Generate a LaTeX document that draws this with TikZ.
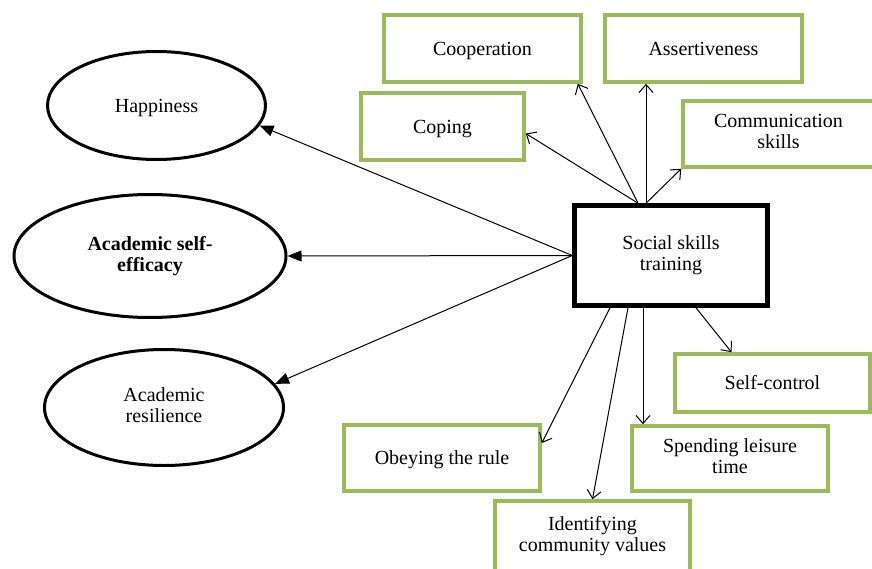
\documentclass[tikz,border=0pt]{standalone}
\usepackage{fontspec}
\setmainfont{Liberation Serif}
\usetikzlibrary{arrows.meta,shapes.geometric,calc}
\definecolor{boxgreen}{HTML}{9BBB59}
% struts giving each text block the line box of the font
\newcommand\topstrut{\rule{0pt}{17.8pt}}
\newcommand\botstrut{\rule[-4.3pt]{0pt}{4.3pt}}

\tikzset{
  base/.style={font=\fontsize{20}{21}\selectfont,align=center,inner sep=2pt,
    execute at begin node=\topstrut,execute at end node=\botstrut},
  outcome/.style={base,ellipse,draw,line width=3pt},
  skillbox/.style={base,rectangle,draw=boxgreen,line width=3.6pt},
  mainbox/.style={base,rectangle,draw,line width=4.6pt},
  toskill/.style={line width=1pt,-{Straight Barb[length=8pt,width=14pt]}},
  tooutcome/.style={line width=1pt,-{Triangle[length=14pt,width=11pt]}}
}

\begin{document}
\begin{tikzpicture}[x=1pt,y=-1pt]
\useasboundingbox (0,0) rectangle (872,569);
\clip (0,0) rectangle (872,569);
\fill[white] (0,0) rectangle (872,569);

% outcomes
\node[outcome,minimum width=218pt,minimum height=108pt] (happy) at (156.5,105.5) {Happiness};
\node[outcome,minimum width=272pt,minimum height=123pt,font=\fontsize{20}{21}\selectfont\bfseries] (effic) at (150,256) {Academic self-\\efficacy};
\node[outcome,minimum width=239pt,minimum height=116pt] (resil) at (164,407.5) {Academic\\resilience};

% training
\node[mainbox,minimum width=193pt,minimum height=100pt] (social) at (671,255.5) {Social skills\\training};

% skills
\node[skillbox,minimum width=197pt,minimum height=67pt] (coop) at (482.5,48.5) {Cooperation};
\node[skillbox,minimum width=197pt,minimum height=67pt] (assert) at (703.5,48.5) {Assertiveness};
\node[skillbox,minimum width=163pt,minimum height=67pt] (coping) at (442.5,126.5) {Coping};
\node[skillbox,minimum width=191pt,minimum height=66pt] (comm) at (778.5,134) {Communication\\skills};
\node[skillbox,minimum width=195pt,minimum height=58pt] (selfctl) at (772.5,383) {Self-control};
\node[skillbox,minimum width=196pt,minimum height=65pt] (spend) at (730,458.5) {Spending leisure\\time};
\node[skillbox,minimum width=196pt,minimum height=66pt] (obey) at (442,458) {Obeying the rule};
\node[skillbox,minimum width=195pt,minimum height=70pt] (ident) at (592.5,536) {Identifying\\community values};

% start points on the training box
\coordinate (topL) at ([xshift=-33pt]social.north);
\coordinate (topR) at ([xshift=-25pt]social.north);
\coordinate (botA) at ([xshift=-61pt]social.south);
\coordinate (botB) at ([xshift=-43pt]social.south);
\coordinate (botC) at ([xshift=-28pt]social.south);
\coordinate (botD) at ([xshift=25pt]social.south);

% arrows to outcomes
\draw[tooutcome] (social.west) -- (happy.-11);
\draw[tooutcome] (social.west) -- (effic.east);
\draw[tooutcome] (social.west) -- (resil.12);

% arrows to skills
\draw[toskill] (topL) -- ([yshift=-7pt]coping.east);
\draw[toskill] (topL) -- ([xshift=-5pt]coop.south east);
\draw[toskill] (topR) -- (topR |- assert.south);
\draw[toskill] (topR) -- (comm.south west);
\draw[toskill] (botA) -- ([yshift=15pt]obey.east);
\draw[toskill] (botB) -- (ident.north);
\draw[toskill] (botC) -- (botC |- spend.north);
\draw[toskill] (botD) -- ([xshift=-41pt]selfctl.north);
\end{tikzpicture}
\end{document}
